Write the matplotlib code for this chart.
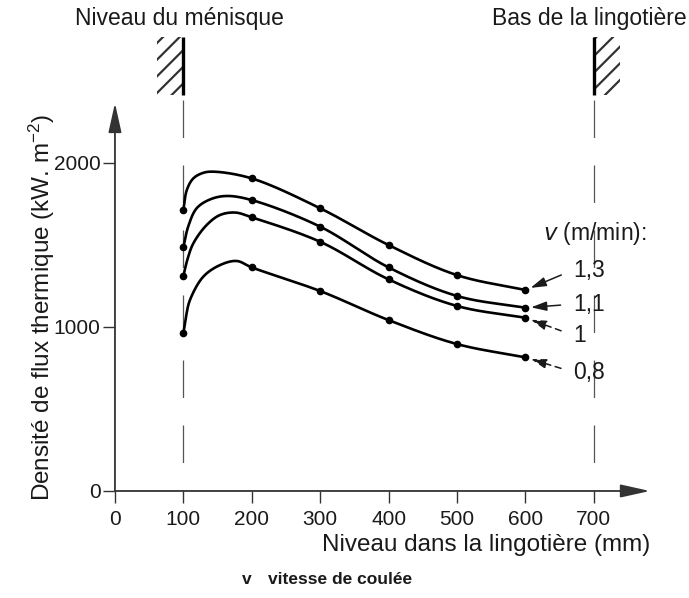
import numpy as np
import matplotlib
matplotlib.use("Agg")
import matplotlib.pyplot as plt
from matplotlib.patches import Rectangle

plt.rcParams['font.family'] = ['Liberation Sans', 'DejaVu Sans']
plt.rcParams['mathtext.default'] = 'regular'
plt.rcParams['hatch.linewidth'] = 1.6

INK = '#1a1a1a'

# Casting speeds (m/min) and heat-flux readings at the marked mould levels
speed_labels = ["1,3", "1,1", "1", "0,8"]
level_mm = [100, 200, 300, 400, 500, 600]
flux_13 = [1711, 1904, 1722, 1498, 1315, 1224]
flux_11 = [1484, 1772, 1610, 1362, 1188, 1116]
flux_10 = [1309, 1667, 1518, 1289, 1127, 1055]
flux_08 = [960, 1362, 1218, 1041, 895, 814]

# Additional curve points along the rise just below the meniscus (no markers)
rise_mm_13 = [105, 114.5, 129, 145]
rise_13 = [1833, 1904, 1938, 1945]
rise_mm_11 = [107, 119.4, 139, 163]
rise_11 = [1610, 1722, 1776, 1797]
rise_mm_10 = [105.7, 114.5, 134, 153.5, 176]
rise_10 = [1407, 1508, 1620, 1681, 1696]
rise_mm_08 = [103.8, 109.6, 129, 153.5, 178]
rise_08 = [1061, 1163, 1305, 1376, 1401]

meniscus_mm = 100
mould_bottom_mm = 700
x_ticks = [0, 100, 200, 300, 400, 500, 600, 700]
y_ticks = [0, 1000, 2000]

series = [
    (flux_13, rise_mm_13, rise_13),
    (flux_11, rise_mm_11, rise_11),
    (flux_10, rise_mm_10, rise_10),
    (flux_08, rise_mm_08, rise_08),
]

# pixel size of one data unit, used to smooth the curves in screen space
PX_PER_MM = 0.684
PX_PER_FLUX = 0.1642


def catmull_rom(px, py, n=40, alpha=0.5):
    """Centripetal Catmull-Rom curve through the given points."""
    P = np.column_stack([px, py]).astype(float)
    P = np.vstack([2 * P[0] - P[1], P, 2 * P[-1] - P[-2]])
    out = []
    for i in range(1, len(P) - 2):
        p0, p1, p2, p3 = P[i - 1], P[i], P[i + 1], P[i + 2]
        t0 = 0.0
        t1 = t0 + np.linalg.norm(p1 - p0) ** alpha
        t2 = t1 + np.linalg.norm(p2 - p1) ** alpha
        t3 = t2 + np.linalg.norm(p3 - p2) ** alpha
        t = np.linspace(t1, t2, n)[:, None]
        A1 = (t1 - t) / (t1 - t0) * p0 + (t - t0) / (t1 - t0) * p1
        A2 = (t2 - t) / (t2 - t1) * p1 + (t - t1) / (t2 - t1) * p2
        A3 = (t3 - t) / (t3 - t2) * p2 + (t - t2) / (t3 - t2) * p3
        B1 = (t2 - t) / (t2 - t0) * A1 + (t - t0) / (t2 - t0) * A2
        B2 = (t3 - t) / (t3 - t1) * A2 + (t - t1) / (t3 - t1) * A3
        C = (t2 - t) / (t2 - t1) * B1 + (t - t1) / (t2 - t1) * B2
        out.append(C if i == 1 else C[1:])
    return np.vstack(out)


fig = plt.figure(figsize=(6.89, 5.98), dpi=100)
ax = fig.add_axes([0.1470, 0.1515, 0.8141, 0.6863])
ax.set_xlim(-20, 800)
ax.set_ylim(-100, 2400)

for s in ax.spines.values():
    s.set_visible(False)
ax.spines['left'].set_position(('data', 0))
ax.spines['bottom'].set_position(('data', 0))

ax.set_xticks(x_ticks)
ax.set_yticks(y_ticks)
ax.tick_params(axis='both', direction='out', length=8.5, width=1.0,
               color='#333333', labelsize=15, labelcolor=INK)
ax.tick_params(axis='x', pad=5)
ax.tick_params(axis='y', pad=2)

# Axis lines with arrow heads
arrow_kw = dict(arrowstyle='-|>,head_length=0.9,head_width=0.2',
                mutation_scale=20, color='#333333', lw=1.3,
                shrinkA=0, shrinkB=0)
ax.annotate('', xy=(0, 2363), xytext=(0, 0), arrowprops=arrow_kw,
            annotation_clip=False)
ax.annotate('', xy=(782, 0), xytext=(0, 0), arrowprops=arrow_kw,
            annotation_clip=False)

# Meniscus and mould-bottom reference lines with wall hatching
wall_lo, wall_hi = 2412, 2768
wall_w = 38
for xm, side in [(meniscus_mm, -1), (mould_bottom_mm, 1)]:
    ax.plot([xm, xm], [2381, 0], color='#555555', lw=0.9,
            dashes=(30, 22), clip_on=False, zorder=1)
    ax.plot([xm, xm], [wall_lo, wall_hi], color='black', lw=2.4,
            clip_on=False, solid_capstyle='butt')
    x0 = xm - wall_w if side < 0 else xm
    ax.add_patch(Rectangle((x0, wall_lo), wall_w, wall_hi - wall_lo,
                           facecolor='none', edgecolor='#333333', lw=0,
                           hatch='//', clip_on=False))

# Heat-flux curves
for flux, rx, ry in series:
    lookup = dict(zip(level_mm, flux))
    lookup.update(dict(zip(rx, ry)))
    xs_pts = np.array(sorted(lookup), float)
    ys_pts = np.array([lookup[v] for v in sorted(lookup)], float)
    curve = catmull_rom(xs_pts * PX_PER_MM, ys_pts * PX_PER_FLUX)
    ax.plot(curve[:, 0] / PX_PER_MM, curve[:, 1] / PX_PER_FLUX,
            color='black', lw=1.9, solid_capstyle='round', zorder=3)
    ax.plot(level_mm, flux, 'o', color='black', ms=4.5, zorder=4)

# Speed labels pointing at the curve ends
label_offsets = [(34.3, 14.4), (34.3, 2.6), (34.3, -12.5), (34.3, -10.6)]
dashed = [False, False, True, True]
for (flux, _, _), lab, off, dsh in zip(series, speed_labels,
                                       label_offsets, dashed):
    ap = dict(arrowstyle='-|>,head_length=0.47,head_width=0.14',
              mutation_scale=20, color=INK, lw=1.1,
              shrinkA=7, shrinkB=4, relpos=(0, 0.5))
    if dsh:
        ap['linestyle'] = (0, (4, 3))
    ax.annotate(lab, xy=(level_mm[-1], flux[-1]), xytext=off,
                textcoords='offset points', ha='left', va='center',
                fontsize=16.5, color=INK, arrowprops=ap,
                annotation_clip=False)

ax.text(626, 1571, r'$\mathit{v}$ (m/min):', fontsize=16.5, color=INK,
        ha='left', va='center')

# Titles at the two reference levels
fig.text(179 / 689, 1 - 18 / 598, 'Niveau du ménisque', fontsize=16.5,
         color=INK, ha='center', va='center')
fig.text(589 / 689, 1 - 18 / 598, 'Bas de la lingotière', fontsize=16.5,
         color=INK, ha='center', va='center')

fig.text(42 / 689, 1 - 307 / 598,
         r'Densité de flux thermique (kW. m$^{-2}$)', fontsize=17.5,
         color=INK, ha='center', va='center', rotation=90)
fig.text(650 / 689, 1 - 545 / 598, 'Niveau dans la lingotière (mm)',
         fontsize=17.5, color=INK, ha='right', va='center')
fig.text(242 / 689, 1 - 580 / 598, 'v', fontsize=12.5, color=INK,
         ha='left', va='center', fontweight='bold')
fig.text(268 / 689, 1 - 580 / 598, 'vitesse de coulée', fontsize=12.5,
         color=INK, ha='left', va='center', fontweight='bold')

fig.savefig('out.png', dpi=100)
